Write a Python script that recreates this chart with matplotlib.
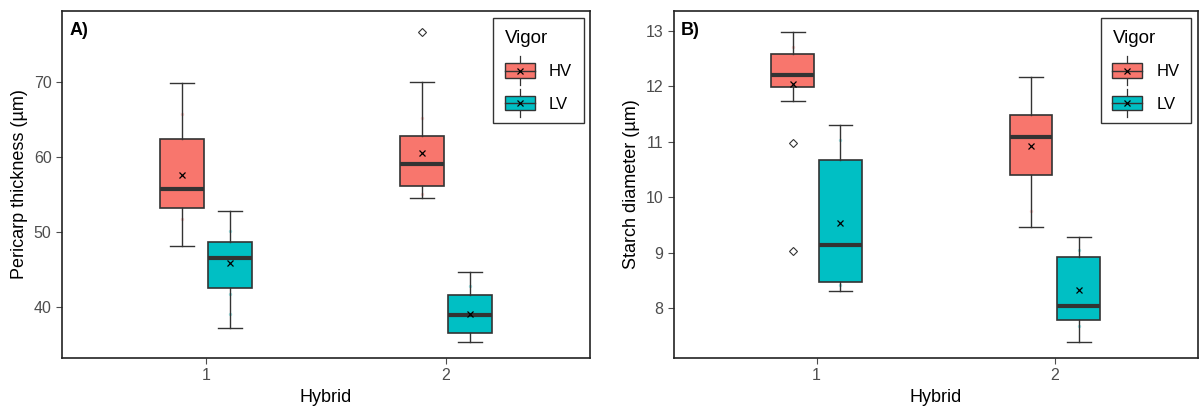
import numpy as np
import matplotlib
matplotlib.use("Agg")
import matplotlib.pyplot as plt
from matplotlib.patches import Patch, Rectangle
from matplotlib.lines import Line2D
from matplotlib.legend_handler import HandlerBase

plt.rcParams["font.family"] = ["Liberation Sans", "DejaVu Sans"]

# -------------------------------
# DATA
# -------------------------------
hybrids = [1, 2]
vigor = ["HV", "LV"]
colors = {"HV": "#F8766D", "LV": "#00BFC4"}

# pericarp thickness: one entry per (hybrid, vigor) -> HV1, LV1, HV2, LV2
peri_whislo = [48.2, 37.2, 54.6, 35.3]
peri_q1 = [53.2, 42.6, 56.2, 36.5]
peri_med = [55.8, 46.6, 59.1, 38.9]
peri_q3 = [62.4, 48.7, 62.8, 41.6]
peri_whishi = [69.9, 52.8, 70.0, 44.7]
peri_mean = [57.6, 45.9, 60.6, 39.1]
peri_fliers = [[], [], [76.7], []]
peri_points = [[65.8, 51.8], [50.2, 41.8, 39.1], [65.2, 55.1], [42.8]]

# starch diameter
starch_whislo = [11.73, 8.31, 9.47, 7.39]
starch_q1 = [11.99, 8.48, 10.41, 7.79]
starch_med = [12.20, 9.13, 11.09, 8.04]
starch_q3 = [12.59, 10.67, 11.48, 8.93]
starch_whishi = [12.98, 11.30, 12.17, 9.29]
starch_mean = [12.05, 9.54, 10.92, 8.33]
starch_fliers = [[10.98, 9.03], [], [], []]
starch_points = [[12.71], [11.03, 8.41], [9.76], [9.05, 7.68]]

DODGE = 0.1
BOX_W = 0.18
EDGE = "#333333"
TICK_GREY = "#4D4D4D"


class BoxKeyHandler(HandlerBase):
    # ggplot style boxplot key: box, whiskers, median line, mean cross
    def create_artists(self, legend, orig_handle, xdescent, ydescent,
                       width, height, fontsize, trans):
        cx = width / 2 - xdescent
        cy = height / 2 - ydescent
        bh = height * 0.9
        arts = [
            Line2D([cx, cx], [cy - height * 0.9, cy + height * 0.9],
                   color=EDGE, lw=0.9),
            Rectangle((-xdescent, cy - bh / 2), width, bh,
                      facecolor=orig_handle.get_facecolor(),
                      edgecolor=EDGE, lw=1.0),
            Line2D([-xdescent, width - xdescent], [cy, cy], color=EDGE, lw=1.0),
            Line2D([cx], [cy], marker="x", color="black", markersize=4.5,
                   markeredgewidth=0.9, lw=0),
        ]
        for a in arts:
            a.set_transform(trans)
        return arts


def draw_panel(ax, whislo, q1, med, q3, whishi, mean, fliers, points,
               ylabel, tag, ylim, yticks):
    groups = [(h, v) for h in hybrids for v in vigor]
    stats, pos = [], []
    for i, (h, v) in enumerate(groups):
        stats.append(dict(whislo=whislo[i], q1=q1[i], med=med[i], q3=q3[i],
                          whishi=whishi[i], mean=mean[i], fliers=fliers[i]))
        pos.append(h + (-DODGE if v == "HV" else DODGE))
    bp = ax.bxp(stats, positions=pos, widths=BOX_W, patch_artist=True,
                showmeans=True, showfliers=True,
                boxprops=dict(edgecolor=EDGE, linewidth=1.2),
                medianprops=dict(color=EDGE, linewidth=3),
                whiskerprops=dict(color=EDGE, linewidth=1),
                capprops=dict(color=EDGE, linewidth=1),
                capwidths=0.1,
                meanprops=dict(marker="x", markeredgecolor="black",
                               markersize=5, markeredgewidth=0.9),
                flierprops=dict(marker="D", markerfacecolor="none",
                                markeredgecolor=EDGE, markersize=4.5,
                                markeredgewidth=0.8))
    for patch, (h, v) in zip(bp["boxes"], groups):
        patch.set_facecolor(colors[v])
    # faint raw points
    for i, (h, v) in enumerate(groups):
        ys = points[i]
        ax.scatter([pos[i]] * len(ys), ys, s=6, color=colors[v],
                   alpha=0.35, zorder=1.5, linewidths=0)

    ax.set_xlim(0.4, 2.6)
    ax.set_ylim(*ylim)
    ax.set_xticks(hybrids)
    ax.set_xticklabels([str(h) for h in hybrids])
    ax.set_yticks(yticks)
    ax.set_xlabel("Hybrid", fontsize=13, labelpad=4)
    ax.set_ylabel(ylabel, fontsize=13, labelpad=4)
    ax.tick_params(axis="both", colors=TICK_GREY, labelsize=11.5, length=4,
                   width=0.8, labelcolor=TICK_GREY)
    for sp in ax.spines.values():
        sp.set_color("#222222")
        sp.set_linewidth(1.2)
    ax.text(0.014, 0.97, tag, transform=ax.transAxes, fontsize=13,
            fontweight="bold", va="top", ha="left")

    handles = [Patch(facecolor=colors[v], edgecolor=EDGE) for v in vigor]
    leg = ax.legend(handles, vigor, title="Vigor", loc="upper right",
                    bbox_to_anchor=(0.988, 0.98), fontsize=12,
                    title_fontsize=13.5, frameon=True, fancybox=False,
                    edgecolor="black", handler_map={Patch: BoxKeyHandler()},
                    handlelength=1.8, handleheight=1.1, labelspacing=0.95,
                    borderpad=0.7, handletextpad=0.85, borderaxespad=0)
    leg.get_frame().set_linewidth(1.0)
    leg._legend_box.align = "left"


fig = plt.figure(figsize=(12.03, 4.11), dpi=100)
axA = fig.add_axes([0.0515, 0.129, 0.439, 0.844])
axB = fig.add_axes([0.560, 0.129, 0.4356, 0.844])

draw_panel(axA, peri_whislo, peri_q1, peri_med, peri_q3, peri_whishi,
           peri_mean, peri_fliers, peri_points,
           "Pericarp thickness (µm)", "A)", (33.2, 79.5), [40, 50, 60, 70])
draw_panel(axB, starch_whislo, starch_q1, starch_med, starch_q3,
           starch_whishi, starch_mean, starch_fliers, starch_points,
           "Starch diameter (µm)", "B)", (7.10, 13.36), [8, 9, 10, 11, 12, 13])

fig.savefig("out.png", dpi=100)
